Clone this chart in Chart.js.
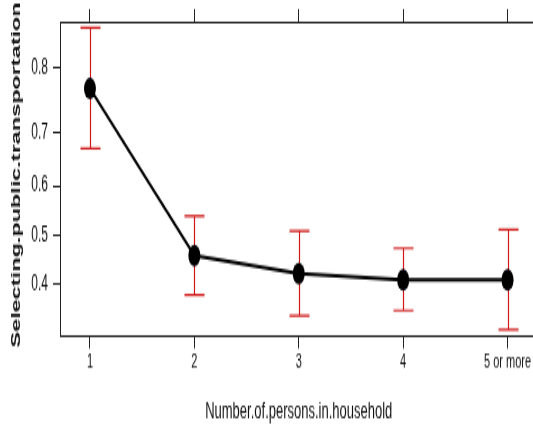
<!DOCTYPE html>
<html>
<head>
<meta charset="utf-8">
<script src="https://cdn.jsdelivr.net/npm/chart.js@4.4.1/dist/chart.umd.min.js"></script>
<style>
  html, body { margin: 0; padding: 0; overflow: hidden; background: #fff; }
</style>
</head>
<body>
<!-- drawn at 545x238 and stretched to 429px tall, like the squashed original -->
<canvas id="plot" width="545" height="238" style="width:545px;height:429px"></canvas>
<script>
// household size categories
const categories = ['1', '2', '3', '4', '5 or more'];
const xValues = [1, 2, 3, 4, 5];

// fitted probability and confidence limits
const fitValues = [0.771, 0.457, 0.420, 0.408, 0.408];
const lowerValues = [0.672, 0.378, 0.338, 0.348, 0.313];
const upperValues = [0.848, 0.539, 0.508, 0.472, 0.511];

// axis ticks
const yTickValues = [0.4, 0.5, 0.6, 0.7, 0.8];

const xTitle = 'Number.of.persons.in.household';
const yTitle = 'Selecting.public.transportation';

const axisColor = '#222';
const barColor = '#d01818';
const capHalf = 10;

Chart.defaults.font.family = '"Liberation Sans", Arial, sans-serif';
Chart.defaults.color = '#111';

// logit scale, the effect plot uses the link scale on the y axis
const logit = p => Math.log(p / (1 - p));

class LogitScale extends Chart.LinearScale {
    getPixelForValue(value) {
        const lo = logit(this.min), hi = logit(this.max);
        return this.getPixelForDecimal((logit(value) - lo) / (hi - lo));
    }
    getValueForPixel(pixel) {
        const lo = logit(this.min), hi = logit(this.max);
        const t = lo + this.getDecimalForPixel(pixel) * (hi - lo);
        return 1 / (1 + Math.exp(-t));
    }
}
LogitScale.id = 'logit';
LogitScale.defaults = {};
Chart.register(LogitScale);

// red confidence bars, drawn under the line and points
const errorBars = {
    id: 'errorBars',
    beforeDatasetsDraw(chart) {
        const { ctx, chartArea, scales } = chart;
        ctx.save();
        ctx.beginPath();
        ctx.rect(chartArea.left, chartArea.top, chartArea.width, chartArea.height);
        ctx.clip();
        ctx.strokeStyle = barColor;
        ctx.lineWidth = 1.2;
        xValues.forEach((xv, i) => {
            const px = Math.round(scales.x.getPixelForValue(xv)) + 0.5;
            const top = scales.y.getPixelForValue(upperValues[i]);
            const bot = scales.y.getPixelForValue(lowerValues[i]);
            ctx.beginPath();
            ctx.moveTo(px, top);
            ctx.lineTo(px, bot);
            ctx.moveTo(px - capHalf, top);
            ctx.lineTo(px + capHalf, top);
            ctx.moveTo(px - capHalf, bot);
            ctx.lineTo(px + capHalf, bot);
            ctx.stroke();
        });
        ctx.restore();
    }
};

// y title is longer than the plot box, so draw it without squeezing
const yTitlePlugin = {
    id: 'yTitle',
    afterDraw(chart) {
        const ctx = chart.ctx;
        ctx.save();
        ctx.translate(16, 97);
        ctx.rotate(-Math.PI / 2);
        ctx.font = 'bold 13px "Liberation Sans", Arial, sans-serif';
        ctx.fillStyle = '#111';
        ctx.textAlign = 'center';
        ctx.textBaseline = 'middle';
        ctx.fillText(yTitle, 0, 0);
        ctx.restore();
    }
};

function setXTicks(scale) {
    scale.ticks = xValues.map(v => ({ value: v }));
}

const ctx = document.getElementById('plot').getContext('2d');
new Chart(ctx, {
    type: 'line',
    data: {
        datasets: [{
            data: xValues.map((xv, i) => ({ x: xv, y: fitValues[i] })),
            borderColor: '#000',
            borderWidth: 2,
            pointRadius: 6,
            pointBackgroundColor: '#000',
            pointBorderWidth: 0,
            tension: 0
        }]
    },
    options: {
        responsive: false,
        animation: false,
        events: [],
        layout: { padding: { right: 7.5 } },
        plugins: {
            legend: { display: false },
            tooltip: { enabled: false }
        },
        scales: {
            x: {
                type: 'linear',
                position: 'bottom',
                min: 0.713,
                max: 5.287,
                afterBuildTicks: setXTicks,
                afterFit: s => { s.height = 51.1; },
                grid: { drawOnChartArea: false, drawTicks: true, tickLength: 6.5, color: axisColor },
                border: { display: true, color: axisColor, width: 1 },
                ticks: {
                    padding: 1,
                    font: { size: 11 },
                    callback: v => categories[v - 1]
                },
                title: {
                    display: true,
                    text: xTitle,
                    font: { size: 13 },
                    padding: { top: 0, bottom: 2.2 }
                }
            },
            x2: {
                type: 'linear',
                position: 'top',
                min: 0.713,
                max: 5.287,
                afterBuildTicks: setXTicks,
                afterFit: s => { s.height = 11.4; },
                grid: { drawOnChartArea: false, drawTicks: true, tickLength: 7.2, color: axisColor },
                border: { display: true, color: axisColor, width: 1 },
                ticks: { display: false }
            },
            y: {
                type: 'logit',
                position: 'left',
                min: 0.300,
                max: 0.854,
                afterBuildTicks: s => { s.ticks = yTickValues.map(v => ({ value: v })); },
                afterFit: s => { s.width = 60; },
                grid: { drawOnChartArea: false, drawTicks: true, tickLength: 7, color: axisColor },
                border: { display: true, color: axisColor, width: 1 },
                ticks: {
                    padding: 5,
                    font: { size: 12 },
                    callback: v => v.toFixed(1)
                }
            }
        }
    },
    plugins: [errorBars, yTitlePlugin]
});
</script>
</body>
</html>
